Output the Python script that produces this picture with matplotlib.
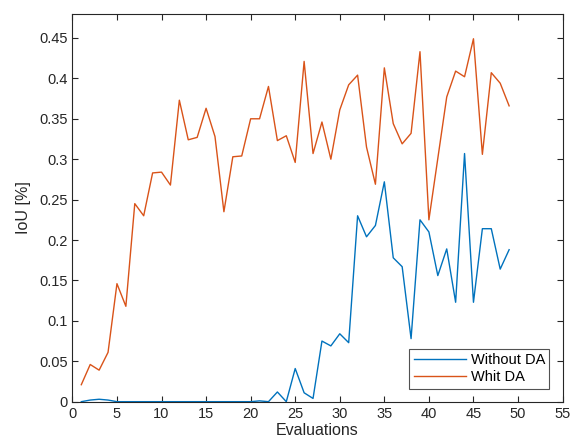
import matplotlib

matplotlib.use("Agg")
import matplotlib.pyplot as plt

plt.rcParams["font.family"] = ["Liberation Sans", "DejaVu Sans"]

evaluations = list(range(1, 50))

without_da = [
    0.0, 0.002, 0.003, 0.002, 0.0, 0.0, 0.0, 0.0, 0.0, 0.0,
    0.0, 0.0, 0.0, 0.0, 0.0, 0.0, 0.0, 0.0, 0.0, 0.0,
    0.001, 0.0, 0.012, 0.0, 0.041, 0.011, 0.004, 0.075, 0.069, 0.084,
    0.073, 0.230, 0.204, 0.218, 0.272, 0.178, 0.167, 0.078, 0.225, 0.210,
    0.156, 0.189, 0.123, 0.307, 0.123, 0.214, 0.214, 0.164, 0.188,
]

whit_da = [
    0.021, 0.046, 0.039, 0.061, 0.146, 0.118, 0.245, 0.230, 0.283, 0.284,
    0.268, 0.373, 0.324, 0.327, 0.363, 0.328, 0.235, 0.303, 0.304, 0.350,
    0.350, 0.390, 0.323, 0.329, 0.296, 0.421, 0.307, 0.346, 0.300, 0.361,
    0.392, 0.404, 0.315, 0.269, 0.413, 0.344, 0.319, 0.332, 0.433, 0.225,
    0.301, 0.377, 0.409, 0.402, 0.449, 0.306, 0.407, 0.394, 0.366,
]

x_ticks = list(range(0, 56, 5))
y_ticks = [0, 0.05, 0.1, 0.15, 0.2, 0.25, 0.3, 0.35, 0.4, 0.45]
y_tick_labels = ["0", "0.05", "0.1", "0.15", "0.2", "0.25", "0.3", "0.35", "0.4", "0.45"]

fig = plt.figure(figsize=(5.7, 4.48), dpi=100)
ax = fig.add_axes([0.127, 0.1034, 0.860, 0.866])

ax.plot(evaluations, without_da, color="#0072BD", linewidth=1.0, label="Without DA")
ax.plot(evaluations, whit_da, color="#D95319", linewidth=1.0, label="Whit DA")

ax.set_xlim(0, 55)
ax.set_ylim(0, 0.48)
ax.set_xticks(x_ticks)
ax.set_yticks(y_ticks)
ax.set_yticklabels(y_tick_labels)

axis_color = "#262626"
for spine in ax.spines.values():
    spine.set_color(axis_color)
    spine.set_linewidth(0.8)
ax.tick_params(direction="in", top=True, right=True, length=4, width=0.8,
               colors=axis_color, labelsize=10.5, labelcolor=axis_color)

ax.set_xlabel("Evaluations", fontsize=11.5, color=axis_color, labelpad=2)
ax.set_ylabel("IoU [%]", fontsize=11.5, color=axis_color, labelpad=6)

leg = ax.legend(loc="lower right", fontsize=10.5, frameon=True, fancybox=False,
                edgecolor="#262626", handlelength=3.6, borderaxespad=0.9,
                borderpad=0.3, labelspacing=0.2, handletextpad=0.3)
leg.get_frame().set_linewidth(0.8)

fig.savefig("out.png", dpi=100)
plt.close(fig)
